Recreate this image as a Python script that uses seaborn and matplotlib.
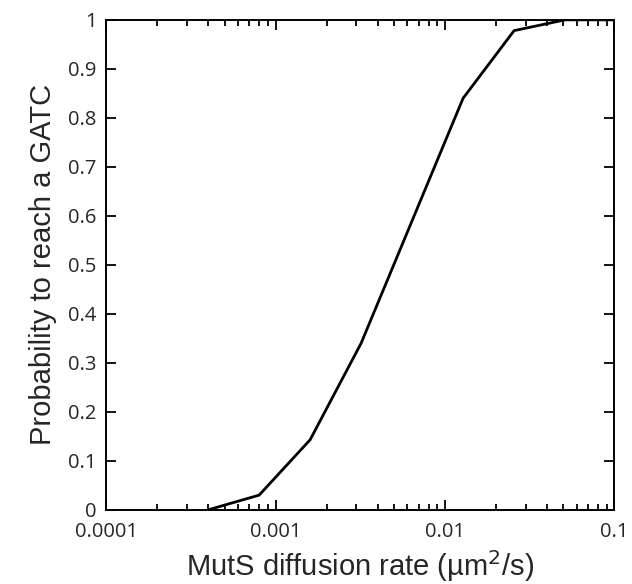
import numpy as np
import pandas as pd
import seaborn as sns
from matplotlib import pyplot as plt
from matplotlib import ticker

sns.set_theme(style="ticks")
plt.rcParams["font.family"] = ["Liberation Sans", "DejaVu Sans"]

# diffusion rate (um^2/s) vs probability of reaching a GATC site
rates = [0.0004, 0.0008, 0.0016, 0.0032, 0.0064, 0.0128, 0.0256, 0.0512, 0.1024]
prob = [0.0, 0.03, 0.143, 0.34, 0.59, 0.84, 0.978, 1.0, 1.0]

x_ticks = [0.0001, 0.001, 0.01, 0.1]
x_ticklabels = ["0.0001", "0.001", "0.01", "0.1"]
y_ticks = [0, 0.1, 0.2, 0.3, 0.4, 0.5, 0.6, 0.7, 0.8, 0.9, 1]
y_ticklabels = ["0", "0.1", "0.2", "0.3", "0.4", "0.5", "0.6", "0.7", "0.8", "0.9", "1"]

df = pd.DataFrame({"rate": rates, "prob": prob})

fig = plt.figure(figsize=(6.32, 5.84), dpi=100)
ax = fig.add_axes([0.168, 0.127, 0.804, 0.839])

sns.lineplot(data=df, x="rate", y="prob", ax=ax, color="black", linewidth=2)

ax.set_xscale("log")
ax.set_xlim(0.0001, 0.1)
ax.set_ylim(0, 1)

ax.set_xticks(x_ticks)
ax.set_xticklabels(x_ticklabels)
ax.xaxis.set_minor_locator(ticker.LogLocator(base=10, subs=np.arange(2, 10)))
ax.xaxis.set_minor_formatter(ticker.NullFormatter())
ax.set_yticks(y_ticks)
ax.set_yticklabels(y_ticklabels)

tick_font = ["Open Sans", "DejaVu Sans"]
for lab in ax.get_xticklabels() + ax.get_yticklabels():
    lab.set_family(tick_font)
    lab.set_fontsize(14.5)

ax.tick_params(which="both", direction="in", top=True, right=True, color="black", width=1.3)
ax.tick_params(which="major", length=7)
ax.tick_params(which="minor", length=4)
ax.tick_params(axis="y", which="major", pad=7)
ax.tick_params(axis="x", which="major", pad=9)

for sp in ax.spines.values():
    sp.set_linewidth(1.4)
    sp.set_color("black")

ax.set_xlabel("MutS diffusion rate (\u00b5m$^2$/s)", fontsize=21, labelpad=4)
ax.set_ylabel("Probability to reach a GATC", fontsize=21, labelpad=8)

fig.savefig("out.png", dpi=100)
